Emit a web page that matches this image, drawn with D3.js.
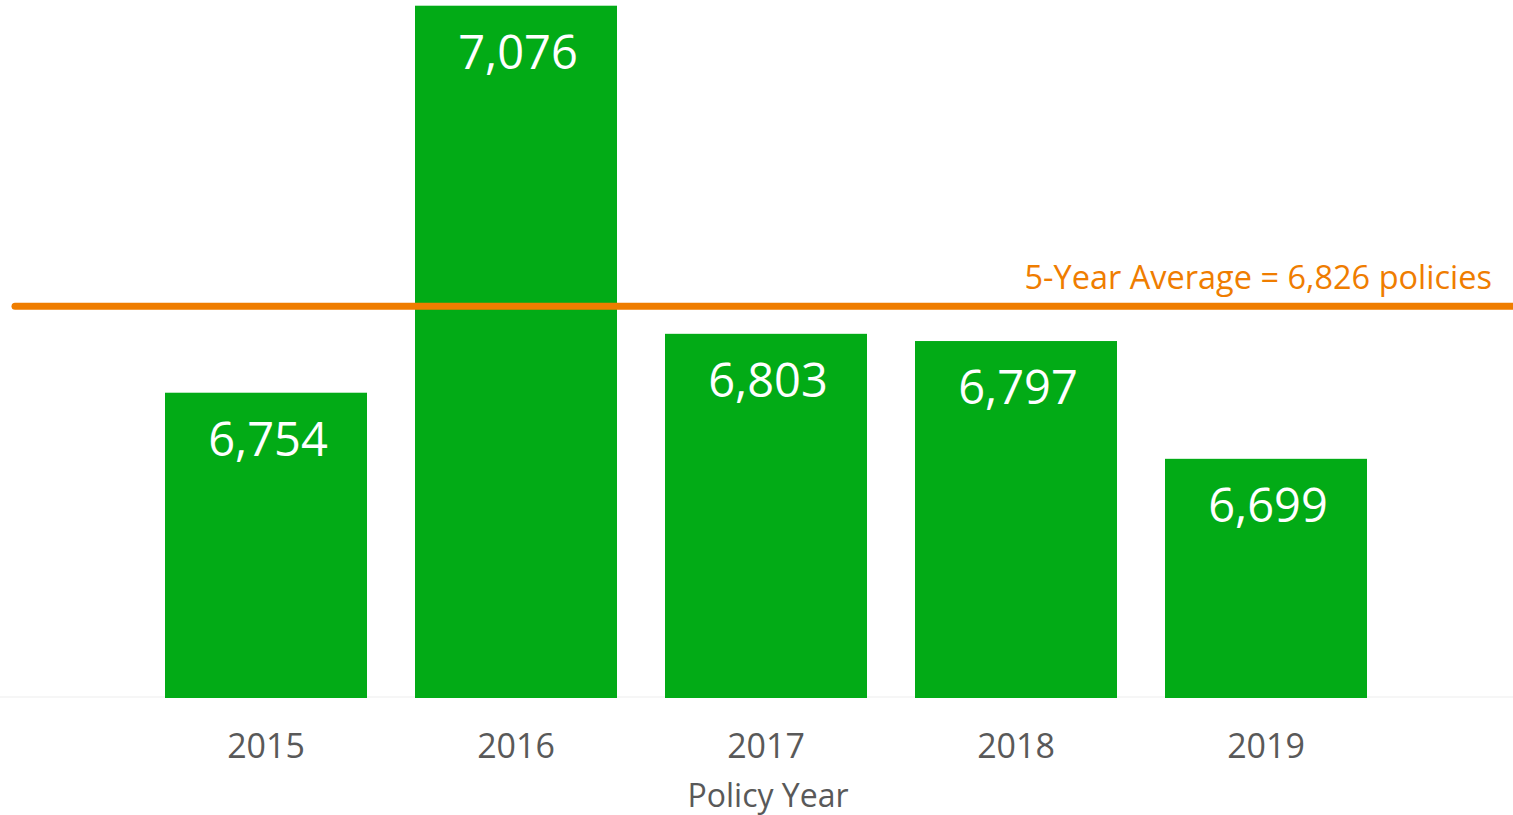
<!DOCTYPE html>
<html>
<head>
<meta charset="utf-8">
<script src="https://cdn.jsdelivr.net/npm/d3@7"></script>
<style>
  html, body { margin: 0; padding: 0; background: #fff; }
  svg { display: block; }
  text { font-family: "Open Sans", "Noto Sans", sans-serif; }
</style>
</head>
<body>
<svg id="chart" width="1513" height="815"></svg>
<script>
const years = ["2015", "2016", "2017", "2018", "2019"];
const policies = [6754, 7076, 6803, 6797, 6699];
const averageValue = 6826;
const averageLabel = "5-Year Average = 6,826 policies";
const xAxisTitle = "Policy Year";

const W = 1513, H = 815;
const svg = d3.select("#chart");

const x = d3.scaleBand()
  .domain(years)
  .range([141, 1391])
  .paddingInner(0.192)
  .paddingOuter(0.096);

const y = d3.scaleLinear()
  .domain([6500, 7100])
  .range([698, 698 - 600 * 1.2019]);

const fmt = d3.format(",");

// baseline axis line
svg.append("line")
  .attr("x1", 0).attr("x2", W)
  .attr("y1", 697).attr("y2", 697)
  .attr("stroke", "#ededed").attr("stroke-width", 1.2);

// bars
svg.append("g").selectAll("rect")
  .data(years)
  .join("rect")
  .attr("x", d => x(d))
  .attr("width", x.bandwidth())
  .attr("y", (d, i) => y(policies[i]))
  .attr("height", (d, i) => y(6500) - y(policies[i]))
  .attr("fill", "#02AB16");

// value labels
svg.append("g").selectAll("text")
  .data(years)
  .join("text")
  .attr("x", d => x(d) + x.bandwidth() / 2 + 2)
  .attr("y", (d, i) => y(policies[i]) + 63)
  .attr("text-anchor", "middle")
  .attr("fill", "#ffffff")
  .attr("font-size", 47)
  .text((d, i) => fmt(policies[i]));

// average line
svg.append("line")
  .attr("x1", 15).attr("x2", W + 10)
  .attr("y1", y(averageValue)).attr("y2", y(averageValue))
  .attr("stroke", "#EF7D00")
  .attr("stroke-width", 7)
  .attr("stroke-linecap", "round");

svg.append("text")
  .attr("x", 1492)
  .attr("y", 289)
  .attr("text-anchor", "end")
  .attr("fill", "#EF7D00")
  .attr("font-size", 32.5)
  .text(averageLabel);

// x axis
const xAxis = svg.append("g")
  .attr("transform", "translate(0,697)")
  .call(d3.axisBottom(x).tickSize(0).tickPadding(0));
xAxis.select(".domain").remove();
xAxis.selectAll("text")
  .attr("y", 61)
  .attr("dy", 0)
  .attr("fill", "#595959")
  .attr("font-size", 34)
  .attr("font-family", "'Open Sans', sans-serif");

svg.append("text")
  .attr("x", 768)
  .attr("y", 807)
  .attr("text-anchor", "middle")
  .attr("fill", "#595959")
  .attr("font-size", 32)
  .text(xAxisTitle);
</script>
</body>
</html>
